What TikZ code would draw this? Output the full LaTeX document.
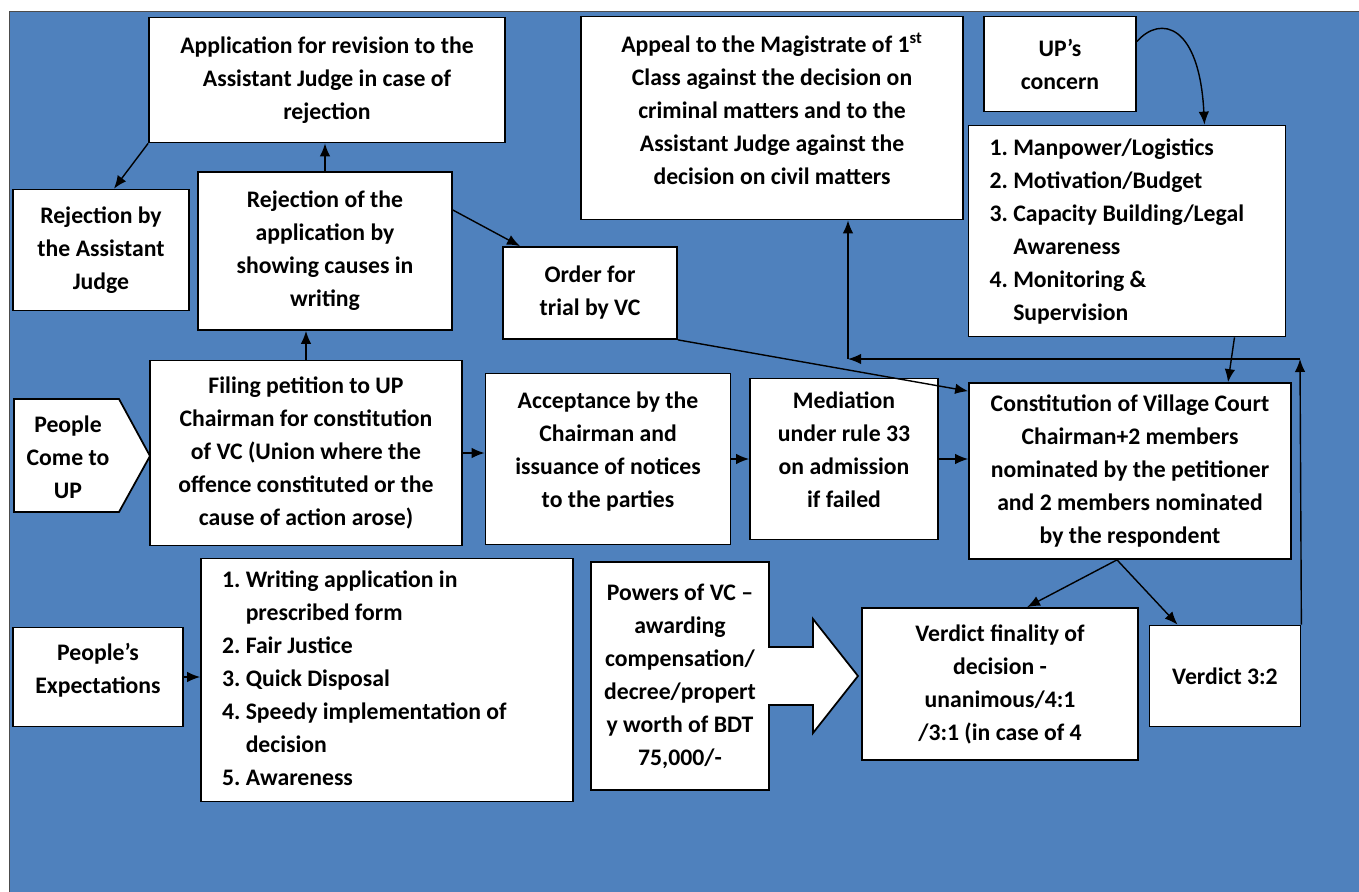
\documentclass[tikz,border=0pt]{standalone}
\usepackage{fontspec}
\setmainfont{Carlito}
\usetikzlibrary{arrows.meta}
\definecolor{bgblue}{RGB}{79,129,189}

\begin{document}
\begin{tikzpicture}[x=0.02cm,y=-0.02cm,>={Latex[length=2.6mm,width=2.1mm]}]
\tikzset{frame/.style={draw,line width=1pt,fill=white},
txt/.style={align=center,font=\bfseries\fontsize{13.5}{18.8}\selectfont},
box/.style={frame,txt,inner sep=2pt},
listbox/.style={box,align=flush left,inner xsep=0.42cm},
link/.style={thick,->}}
\useasboundingbox (0,0) rectangle (1359,892);
\fill[bgblue,draw=gray!60!black] (9,11) rectangle (1359,892);
% upper row
\node[box,minimum width=7.12cm,minimum height=2.50cm] (app) at (327,80) {Application for revision to the\\Assistant Judge in case of\\rejection};
\node[box,minimum width=3.52cm,minimum height=2.42cm] (rejaj) at (101,250) {Rejection by\\the Assistant\\Judge};
\node[box,minimum width=5.08cm,minimum height=3.16cm] (rejapp) at (325,251) {Rejection of the\\application by\\showing causes in\\writing};
\node[box,minimum width=3.48cm,minimum height=1.84cm] (order) at (590,293) {Order for\\trial by VC};
\node[box,minimum width=7.64cm,minimum height=4.06cm] (appeal) at (772,118) {Appeal to the Magistrate of 1\textsuperscript{st}\\Class against the decision on\\criminal matters and to the\\Assistant Judge against the\\decision on civil matters\\[-0.3cm]\mbox{}};
\node[box,minimum width=3.04cm,minimum height=1.90cm] (upc) at (1060,64) {UP’s\\concern};
\node[listbox,text width=5.50cm,minimum height=4.22cm] (uplist) at (1127,231) {\begin{tabular}{@{}l@{\ }l@{}}1. & Manpower/Logistics\\2. & Motivation/Budget\\3. & Capacity Building/Legal\\ & Awareness\\4. & Monitoring \&\\ & Supervision\end{tabular}};
% middle row
\draw[frame] (14,399) -- (119,399) -- (150,456) -- (119,512) -- (14,512) -- cycle;
\node[txt] (people) at (68,457) {People\\Come to\\UP};
\node[box,minimum width=6.24cm,minimum height=3.70cm] (filing) at (306,453) {Filing petition to UP\\Chairman for constitution\\of VC (Union where the\\offence constituted or the\\cause of action arose)};
\node[box,minimum width=4.90cm,minimum height=3.42cm] (accept) at (608,459) {Acceptance by the\\Chairman and\\issuance of notices\\to the parties\\[-0.3cm]\mbox{}};
\node[box,minimum width=3.76cm,minimum height=3.22cm] (mediation) at (844,459) {Mediation\\under rule 33\\on admission\\if failed\\[-0.3cm]\mbox{}};
\node[box,minimum width=6.44cm,minimum height=3.52cm] (constitution) at (1130,471) {Constitution of Village Court\\Chairman+2 members\\nominated by the petitioner\\and 2 members nominated\\by the respondent};
% lower row
\node[box,minimum width=3.40cm,minimum height=1.98cm] (pexp) at (98,677) {People’s\\Expectations\\[-0.3cm]\mbox{}};
\node[listbox,text width=6.60cm,minimum height=4.86cm] (elist) at (387,680) {\begin{tabular}{@{}l@{\ }l@{}}1. & Writing application in\\ & prescribed form\\2. & Fair Justice\\3. & Quick Disposal\\4. & Speedy implementation of\\ & decision\\5. & Awareness\end{tabular}};
\coordinate (tip) at (858,676);
\draw[frame] (tip) -- ++(-45,-57) -- ++(0,28) -- ++(-60,0) -- ++(0,58) -- ++(60,0) -- ++(0,28) -- cycle;
\node[box,minimum width=3.56cm,minimum height=4.56cm] (powers) at (680,676) {Powers of VC –\\awarding\\compensation/\\decree/propert\\y worth of BDT\\75,000/-};
\fill[white] ([xshift=-1pt,yshift=0.56cm]powers.east) rectangle ([xshift=1pt,yshift=-0.56cm]powers.east);
\node[box,minimum width=5.52cm,minimum height=3.04cm] (verdict) at (1000,684) {Verdict finality of\\decision -\\unanimous/4:1\\/3:1 (in case of 4};
\node[box,minimum width=3.02cm,minimum height=2.02cm] (vtwo) at (1225,676) {\mbox{}\\[-0.3cm]Verdict 3:2};
% connectors
\draw[link] (rejapp.north) -- (rejapp.north |- app.south);
\draw[link] (app.south west) -- ([xshift=0.26cm]rejaj.north);
\draw[link] ([yshift=0.82cm]rejapp.east) -- ([xshift=-1.40cm]order.north);
\draw[link] (filing.north) -- (filing.north |- rejapp.south);
\draw[link] (filing.east) -- (filing.east -| accept.west);
\draw[link] (accept.east) -- (accept.east -| mediation.west);
\draw[link] (mediation.east) -- (mediation.east -| constitution.west);
\draw[link] (order.south east) -- ([yshift=-0.18cm]constitution.north west);
\draw[link] ([yshift=0.45cm]upc.east) .. controls +(24,-27) and +(-5,-100) .. ([xshift=1.55cm]uplist.north);
\draw[link] ([xshift=2.15cm]uplist.south) -- ([xshift=1.96cm]constitution.north);
\draw[link] (pexp.east) -- (pexp.east -| elist.west);
\draw[link] ([xshift=-0.26cm]constitution.south) -- ([xshift=0.54cm]verdict.north);
\draw[link] ([xshift=-0.26cm]constitution.south) -- ([xshift=-0.95cm]vtwo.north);
\coordinate (loopR) at (1300,359);
\coordinate (loopL) at (848,359);
\draw[link] (vtwo.north east) -- (loopR);
\draw[link] (loopR) -- (loopL);
\draw[link] (loopL) -- (loopL |- appeal.south);
\end{tikzpicture}
\end{document}
